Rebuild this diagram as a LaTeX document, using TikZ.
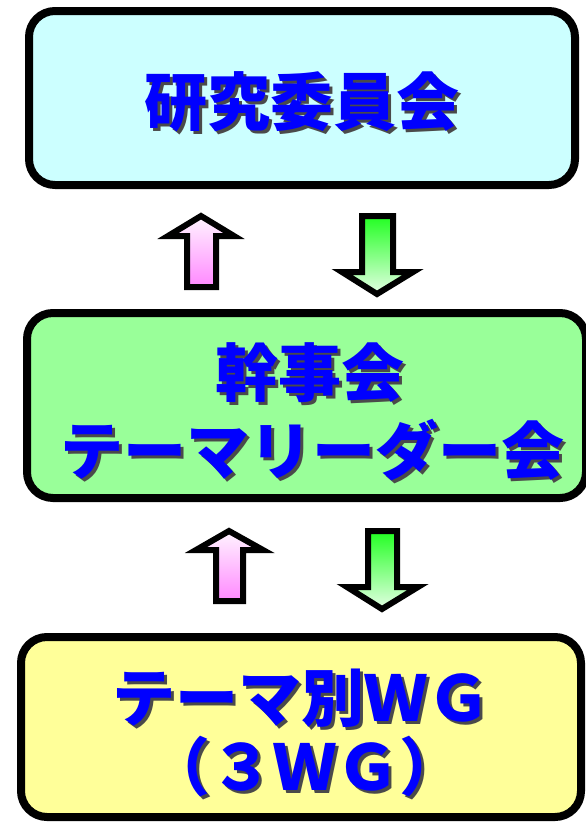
\documentclass[tikz,border=0pt]{standalone}
\usepackage{fontspec}
\newfontfamily\jp{Noto Sans CJK JP}
\definecolor{boxcyan}{HTML}{CCFFFF}
\definecolor{boxgreen}{HTML}{99FF99}
\definecolor{boxyellow}{HTML}{FFFF99}
\definecolor{txtblue}{HTML}{0000FF}
\definecolor{shadowgray}{HTML}{4A4A4A}
\definecolor{pinktop}{HTML}{FFF4FF}
\definecolor{pinkbot}{HTML}{FF88FF}
\definecolor{greentop}{HTML}{22FF22}
\definecolor{greenbot}{HTML}{E4FFE4}
\newcommand\shtext[1]{\makebox[0pt][l]{\hspace{3pt}\raisebox{-3pt}{\textcolor{shadowgray}{#1}}}#1}
\tikzset{
  panel/.style={draw=black, line width=8pt, rounded corners=26pt},
  lbl/.style={font=\jp\bfseries\fontsize{63}{63}\selectfont, text=txtblue, anchor=base, inner sep=0pt},
  uparrow/.style={draw=black, line width=6pt, line join=miter, top color=pinktop, bottom color=pinkbot},
  downarrow/.style={draw=black, line width=6pt, line join=miter, top color=greentop, bottom color=greenbot}
}
\begin{document}
\begin{tikzpicture}[x=1pt,y=-1pt]
\useasboundingbox (0,0) rectangle (586,822);
% panels
\draw[panel, fill=boxcyan] (29,11) rectangle (575,185);
\draw[panel, fill=boxgreen] (27,313) rectangle (586,498);
\draw[panel, fill=boxyellow] (21,637) rectangle (581,817);
% arrows pair 1
\draw[uparrow] (201,216) -- (234,236) -- (216,236) -- (216,287) -- (187,287) -- (187,236) -- (168,236) -- cycle;
\draw[downarrow] (362,216) -- (393,216) -- (393,272) -- (413,272) -- (377,294) -- (342,272) -- (362,272) -- cycle;
% arrows pair 2
\draw[uparrow] (229,531) -- (263,550) -- (243,550) -- (243,601) -- (216,601) -- (216,550) -- (196,550) -- cycle;
\draw[downarrow] (368,531) -- (397,531) -- (397,587) -- (418,587) -- (382,609) -- (347,587) -- (368,587) -- cycle;
% texts
\node[lbl] (t1) at (302,125) {\shtext{研究委員会}};
\node[lbl] (t2) at (310,396) {\shtext{幹事会}};
\node[lbl] (t3) at (312,474) {\shtext{テーマリーダー会}};
\node[lbl] (t4) at (301,721) {\shtext{テーマ別ＷＧ}};
\node[lbl] (t5) at (305,790) {\shtext{（３ＷＧ）}};
\end{tikzpicture}
\end{document}
